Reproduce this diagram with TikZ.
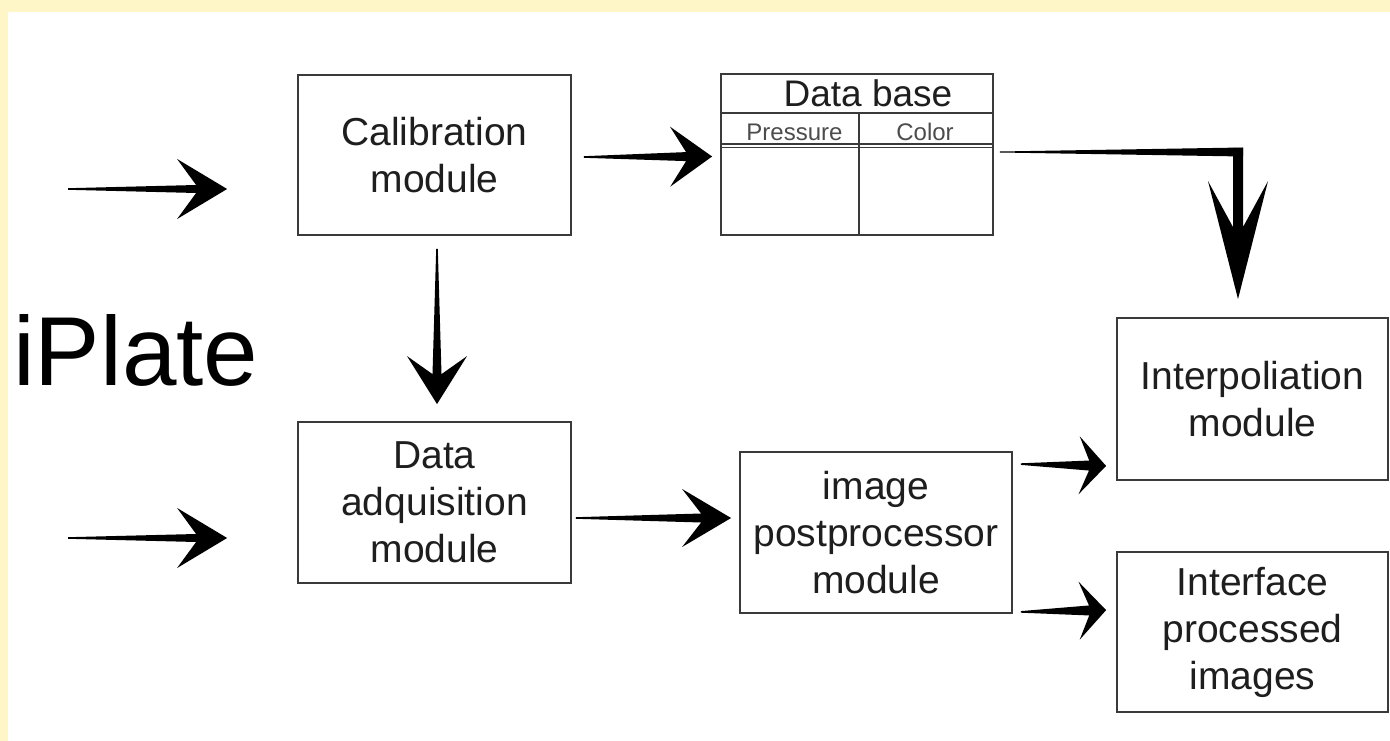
\documentclass[tikz,border=0pt]{standalone}
\usepackage{fontspec}
\setmainfont{Liberation Sans}
\usetikzlibrary{calc}
\definecolor{bgyellow}{HTML}{FFF6C8}
\definecolor{boxline}{HTML}{3A3A3A}
\definecolor{txt}{HTML}{1E1E1E}
\begin{document}
\begin{tikzpicture}[x=1pt,y=-1pt,
  box/.style={draw=boxline, line width=1.8pt, fill=white, inner sep=0pt,
    align=center, text=txt, font=\fontsize{39}{47}\selectfont},
  tarrow/.style n args={5}{to path={
     -- ($(\tikztostart)!#1!90:(\tikztotarget)$)
     -- ($(\tikztotarget)!#5!(\tikztostart)!#2!90:(\tikztotarget)$)
     -- ($(\tikztotarget)!#3!(\tikztostart)!#4!90:(\tikztotarget)$)
     -- (\tikztotarget)
     -- ($(\tikztotarget)!#3!(\tikztostart)!#4!-90:(\tikztotarget)$)
     -- ($(\tikztotarget)!#5!(\tikztostart)!#2!-90:(\tikztotarget)$)
     -- ($(\tikztostart)!#1!-90:(\tikztotarget)$)
     -- cycle}},
  taper/.style n args={2}{to path={
     -- ($(\tikztostart)!#1!90:(\tikztotarget)$)
     -- ($(\tikztotarget)!#2!-90:(\tikztostart)$)
     -- ($(\tikztotarget)!#2!90:(\tikztostart)$)
     -- ($(\tikztostart)!#1!-90:(\tikztotarget)$)
     -- cycle}},
  arrowfill/.style={fill=black},
  small/.style={text=black!70, font=\fontsize{24}{26}\selectfont, inner sep=0pt, anchor=base},
]
\useasboundingbox (0,0) rectangle (1390,741);
\fill[bgyellow] (0,0) rectangle (1390,741);
\fill[white] (8,12) rectangle (1390,741);

% boxes
\node[box, minimum width=273pt, minimum height=160pt] (cal) at (434.5,155) {Calibration\\module};
\node[box, minimum width=273pt, minimum height=161pt] (acq) at (434.5,502.5) {Data\\adquisition\\module};
\node[box, minimum width=272pt, minimum height=161pt] (db) at (857,154.5) {};
\node[box, minimum width=272pt, minimum height=161pt] (post) at (876,532.5) {image\\postprocessor\\module};
\node[box, minimum width=271pt, minimum height=162pt] (interp) at (1252.5,399) {Interpoliation\\module};
\node[box, minimum width=271pt, minimum height=160pt] (iface) at (1252.5,632) {Interface\\processed\\images};

% data base table
\draw[boxline, line width=1.8pt] ($(db.north west)+(0,40)$) -- ($(db.north east)+(0,40)$);
\draw[boxline, line width=1.2pt] ($(db.north west)+(0,71)$) -- ($(db.north east)+(0,71)$);
\draw[boxline, line width=1.2pt] ($(db.north west)+(0,74.5)$) -- ($(db.north east)+(0,74.5)$);
\draw[boxline, line width=1.8pt] ($(db.north)+(2,40)$) -- ($(db.south)+(2,0)$);
\node[anchor=base, inner sep=0pt, text=txt, font=\fontsize{37}{40}\selectfont] (dbtitle) at ($(db.north)+(11,33)$) {Data base};
\node[small] (press) at (794.5,141) {Pressure};
\node[small] (color) at (925,141) {Color};

% title
\node[anchor=base west, inner sep=0pt, text=black, font=\fontsize{98}{100}\selectfont] (iplate) at (13,385) {iPlate};

% arrow end points
\coordinate (in1s) at (68,189);
\coordinate (in1e) at ([xshift=-70pt,yshift=-34pt]cal.west);
\coordinate (in2s) at (68,538);
\coordinate (in2e) at ([xshift=-70pt,yshift=-35.5pt]acq.west);
\coordinate (c2s) at ([xshift=12pt,yshift=-2pt]cal.east);
\coordinate (c2e) at ([xshift=-8pt,yshift=-2pt]db.west);
\coordinate (c3s) at ([xshift=2.5pt,yshift=-13pt]cal.south);
\coordinate (c3e) at ([xshift=2.5pt,yshift=17pt]acq.north);
\coordinate (c4s) at ([xshift=4pt,yshift=-15.5pt]acq.east);
\coordinate (c4e) at ([xshift=-8pt,yshift=14.5pt]post.west);
\coordinate (c5s) at ([xshift=8pt,yshift=-13pt]post.north east);
\coordinate (c5e) at ([xshift=-10pt,yshift=15pt]interp.south west);
\coordinate (c6s) at ([xshift=8pt,yshift=2pt]post.south east);
\coordinate (c6e) at ([xshift=-10pt,yshift=-59pt]iface.north west);
\coordinate (dbs) at ([xshift=6pt,yshift=2.5pt]db.east);
\coordinate (dbt) at ([xshift=-14.5pt,yshift=18pt]interp.north);
\coordinate (corner) at (dbs -| dbt);
\coordinate (cornerx) at ([xshift=5pt]corner);
\coordinate (cornery) at ([yshift=4pt]corner);

% arrows
\fill[arrowfill] (in1s) to[tarrow={0.8pt}{4pt}{50pt}{30pt}{31pt}] (in1e);
\fill[arrowfill] (in2s) to[tarrow={0.8pt}{4pt}{50pt}{30pt}{31pt}] (in2e);
\fill[arrowfill] (c2s) to[tarrow={0.8pt}{4.5pt}{42pt}{30pt}{26pt}] (c2e);
\fill[arrowfill] (c3s) to[tarrow={0.8pt}{4.5pt}{48pt}{30pt}{30pt}] (c3e);
\fill[arrowfill] (c4s) to[tarrow={0.8pt}{4.5pt}{49pt}{29pt}{30pt}] (c4e);
\fill[arrowfill] (c5s) to[tarrow={0.8pt}{5pt}{27pt}{29pt}{17pt}] (c5e);
\fill[arrowfill] (c6s) to[tarrow={0.8pt}{5pt}{27pt}{29pt}{17pt}] (c6e);
\fill[arrowfill] (dbs) to[taper={0.5pt}{4.5pt}] (cornerx);
\fill[arrowfill] (cornery) to[tarrow={5pt}{5pt}{118pt}{30pt}{72pt}] (dbt);
\end{tikzpicture}
\end{document}
